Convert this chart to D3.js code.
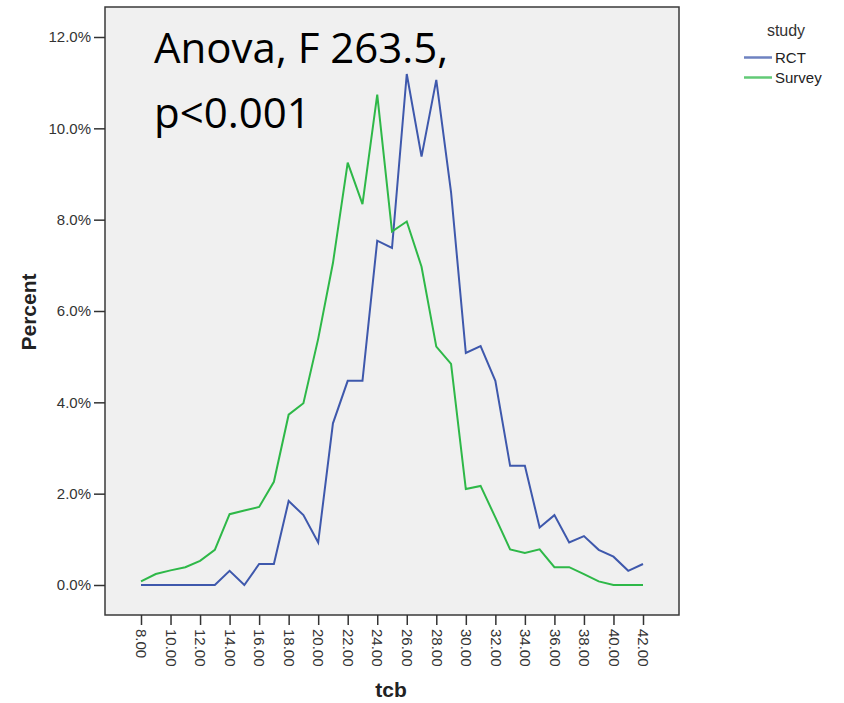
<!DOCTYPE html>
<html>
<head>
<meta charset="utf-8">
<script src="https://cdn.jsdelivr.net/npm/d3@7"></script>
<style>
    body { margin: 0; background: #fff; }
    svg text { font-family: "Liberation Sans", Arial, sans-serif; }
</style>
</head>
<body>
<div id="chart"></div>
<script>
// tcb values (x) and percent per study
var tcb = [8, 9, 10, 11, 12, 13, 14, 15, 16, 17, 18, 19, 20, 21, 22, 23, 24, 25,
           26, 27, 28, 29, 30, 31, 32, 33, 34, 35, 36, 37, 38, 39, 40, 41, 42];

var rctPercent = [0, 0, 0, 0, 0, 0, 0.31, 0, 0.46, 0.46, 1.84, 1.53, 0.93, 3.54, 4.47, 4.47, 7.54, 7.38,
                  11.19, 9.38, 11.06, 8.6, 5.08, 5.23, 4.47, 2.61, 2.61, 1.26, 1.53, 0.93, 1.07, 0.77, 0.62, 0.31, 0.46];

var surveyPercent = [0.08, 0.24, 0.32, 0.39, 0.53, 0.77, 1.55, 1.63, 1.71, 2.26, 3.73, 3.98, 5.39, 7.05, 9.25, 8.34, 10.74, 7.74,
                     7.96, 6.97, 5.22, 4.84, 2.1, 2.17, 1.48, 0.78, 0.7, 0.78, 0.39, 0.39, 0.24, 0.08, 0, 0, 0];

var xTicks = [8, 10, 12, 14, 16, 18, 20, 22, 24, 26, 28, 30, 32, 34, 36, 38, 40, 42];
var yTicks = [0, 2, 4, 6, 8, 10, 12];

var seriesNames = ["RCT", "Survey"];
var seriesColors = ["#3e58ac", "#2eb848"];

(function() {
    'use strict';

    var width = 844, height = 703;
    var frame = { left: 105, top: 7, right: 679, bottom: 615 };

    var svg = d3.select("#chart").append("svg")
        .attr("width", width)
        .attr("height", height);

    var x = d3.scaleLinear()
        .domain([8, 42])
        .range([frame.left + 36, frame.right - 36]);

    var y = d3.scaleLinear()
        .domain([0, 12])
        .range([frame.bottom - 30, frame.top + 30]);

    // plot background + frame
    svg.append("rect")
        .attr("x", frame.left)
        .attr("y", frame.top)
        .attr("width", frame.right - frame.left)
        .attr("height", frame.bottom - frame.top)
        .style("fill", "#f0f0f0")
        .style("stroke", "#3a3a3a")
        .style("stroke-width", 1.5);

    // y axis
    var yAxis = d3.axisLeft(y)
        .tickValues(yTicks)
        .tickSize(11)
        .tickPadding(3)
        .tickFormat(function(d) { return d3.format(".1%")(d / 100); });

    var gy = svg.append("g")
        .attr("transform", "translate(" + frame.left + ",0)")
        .call(yAxis);
    gy.select(".domain").remove();
    gy.selectAll("line").style("stroke", "#333").style("stroke-width", 1.5);
    gy.selectAll("text")
        .style("font-size", "15px")
        .style("fill", "#333");

    // x axis, labels rotated to read downwards
    var xAxis = d3.axisBottom(x)
        .tickValues(xTicks)
        .tickSize(10)
        .tickFormat(d3.format(".2f"));

    var gx = svg.append("g")
        .attr("transform", "translate(0," + frame.bottom + ")")
        .call(xAxis);
    gx.select(".domain").remove();
    gx.selectAll("line").style("stroke", "#333").style("stroke-width", 1.5);
    gx.selectAll("text")
        .attr("transform", "rotate(90)")
        .attr("x", 14)
        .attr("y", 0)
        .attr("dy", "0.35em")
        .style("text-anchor", "start")
        .style("font-size", "15px")
        .style("fill", "#333");

    // axis titles
    svg.append("text")
        .attr("transform", "translate(36,312) rotate(-90)")
        .attr("text-anchor", "middle")
        .style("font-size", "21px")
        .style("font-weight", "bold")
        .style("fill", "#222")
        .text("Percent");

    svg.append("text")
        .attr("x", 391)
        .attr("y", 697)
        .attr("text-anchor", "middle")
        .style("font-size", "21px")
        .style("font-weight", "bold")
        .style("fill", "#222")
        .text("tcb");

    // lines
    var series = [rctPercent, surveyPercent];
    var line = d3.line()
        .x(function(d, i) { return x(tcb[i]); })
        .y(function(d) { return y(d); });

    series.forEach(function(values, s) {
        svg.append("path")
            .datum(values)
            .attr("d", line)
            .style("fill", "none")
            .style("stroke", seriesColors[s])
            .style("stroke-width", 2)
            .style("stroke-linejoin", "miter");
    });

    // annotation
    var note = svg.append("text")
        .style("font-family", "'Open Sans', sans-serif")
        .style("font-size", "42px")
        .style("fill", "#000");
    note.append("tspan").attr("x", 154).attr("y", 63).text("Anova, F 263.5,");
    note.append("tspan").attr("x", 154).attr("y", 128).text("p<0.001");

    // legend
    var legend = svg.append("g");
    legend.append("text")
        .attr("x", 786)
        .attr("y", 36)
        .attr("text-anchor", "middle")
        .style("font-size", "16px")
        .style("fill", "#333")
        .text("study");

    seriesNames.forEach(function(name, i) {
        var ly = 57.5 + i * 20;
        legend.append("line")
            .attr("x1", 744)
            .attr("x2", 772)
            .attr("y1", ly)
            .attr("y2", ly)
            .style("stroke", seriesColors[i])
            .style("stroke-opacity", 0.75)
            .style("stroke-width", 2.5);
        legend.append("text")
            .attr("x", 775)
            .attr("y", ly)
            .attr("dy", "0.35em")
            .style("font-size", "15px")
            .style("fill", "#222")
            .text(name);
    });
})();
</script>
</body>
</html>
